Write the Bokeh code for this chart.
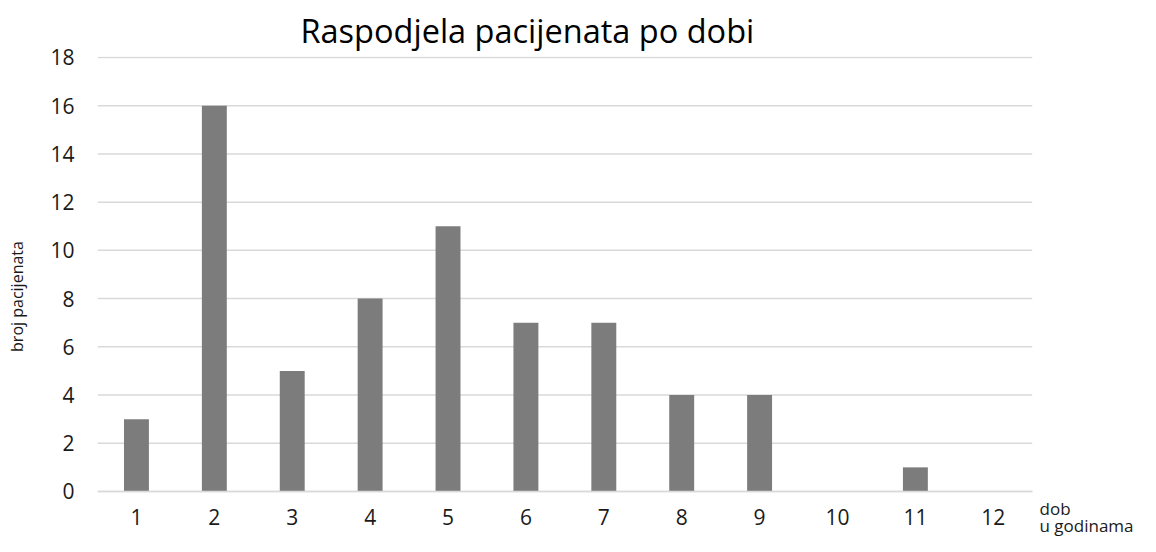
from bokeh.plotting import figure
from bokeh.models import Range1d, FixedTicker, ColumnDataSource, Label
from bokeh.embed import file_html
from bokeh.resources import INLINE

ages = [1, 2, 3, 4, 5, 6, 7, 8, 9, 10, 11, 12]
patients = [3, 16, 5, 8, 11, 7, 7, 4, 4, 0, 1, 0]
y_ticks = [0, 2, 4, 6, 8, 10, 12, 14, 16, 18]

title_text = "Raspodjela pacijenata po dobi"
y_label = "broj pacijenata"
x_label_lines = ["dob", "u godinama"]

FONT = "Open Sans"
TXT = "#1a1a1a"
GRID = "#d9d9d9"

source = ColumnDataSource(data=dict(age=ages, n=patients))
grid_src = ColumnDataSource(data=dict(y=y_ticks,
                                      x0=[ages[0] - 0.5] * len(y_ticks),
                                      x1=[ages[-1] + 0.5] * len(y_ticks)))

# plot frame extends to the right/bottom edges so the lower-right axis title can sit inside it
p = figure(width=1140, height=536,
           x_range=Range1d(0.5, 13.89), y_range=Range1d(-1.867, 18.04),
           output_backend="svg", toolbar_location=None,
           min_border_left=97, min_border_right=0,
           min_border_top=56, min_border_bottom=0,
           title=title_text)

p.title.text_font = FONT
p.title.text_font_size = "32.5px"
p.title.text_font_style = "normal"
p.title.text_color = "#000000"
p.title.align = "left"
p.title.offset = 203
p.title.standoff = 8

# horizontal gridlines limited to the category area
p.segment(x0="x0", x1="x1", y0="y", y1="y", source=grid_src,
          line_color=GRID, line_width=1.5)

p.vbar(x="age", top="n", width=0.32, source=source,
       fill_color="#7c7c7c", line_color=None)

p.outline_line_color = None
p.background_fill_color = "white"
p.border_fill_color = "white"
p.xgrid.visible = False
p.ygrid.visible = False

p.yaxis.ticker = FixedTicker(ticks=y_ticks)
p.yaxis.axis_line_color = None
p.yaxis.major_tick_line_color = None
p.yaxis.minor_tick_line_color = None
p.yaxis.major_label_standoff = 17
p.yaxis.major_label_text_font = FONT
p.yaxis.major_label_text_font_size = "21px"
p.yaxis.major_label_text_color = TXT
p.yaxis.axis_label = y_label
p.yaxis.axis_label_text_font = FONT
p.yaxis.axis_label_text_font_size = "16px"
p.yaxis.axis_label_text_font_style = "normal"
p.yaxis.axis_label_text_color = TXT
p.yaxis.axis_label_standoff = 19

p.xaxis.ticker = FixedTicker(ticks=ages)
p.xaxis.fixed_location = 0
p.xaxis.bounds = (ages[0] - 0.5, ages[-1] + 0.5)
p.xaxis.axis_line_color = GRID
p.xaxis.axis_line_width = 1.5
p.xaxis.major_tick_line_color = None
p.xaxis.minor_tick_line_color = None
p.xaxis.major_label_standoff = 12
p.xaxis.major_label_text_font = FONT
p.xaxis.major_label_text_font_size = "21px"
p.xaxis.major_label_text_color = TXT

for txt, yy in zip(x_label_lines, [28, 11]):
    p.add_layout(Label(x=942, y=yy, x_units="screen", y_units="screen",
                       text=txt, text_font=FONT, text_font_size="17px",
                       text_color=TXT, text_align="left",
                       text_baseline="alphabetic"))

open("out.html", "w").write(file_html(p, INLINE))
